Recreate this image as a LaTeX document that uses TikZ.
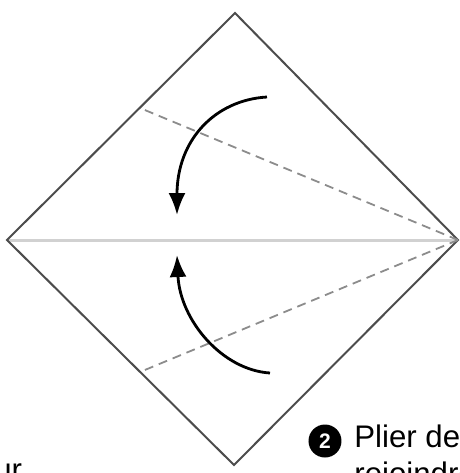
\documentclass[tikz,border=0pt]{standalone}
\usepackage{fontspec}
\setmainfont{Liberation Sans}
\usetikzlibrary{arrows.meta}

\begin{document}
\begin{tikzpicture}[x=0.5pt, y=-0.5pt,
        side/.style = {draw=black!70, line width=1pt, line join=miter},
        fold/.style = {draw=black!45, line width=0.9pt, dash pattern=on 4.5pt off 3pt},
        mid/.style = {draw=black!18, line width=1.5pt},
        flip/.style = {line width=1.4pt, -{Latex[length=11pt, width=8.5pt]}},
        txt/.style = {font=\fontsize{15.6}{17}\selectfont, inner sep=0pt, anchor=base west}]
        \useasboundingbox (0,0) rectangle (460,473);
        \clip (0,0) rectangle (460,473);

        \coordinate (top) at (235,13);
        \coordinate (left) at (7,240);
        \coordinate (right) at (458,240);
        \coordinate (bottom) at (234,465);
        \coordinate (up) at (140,108);
        \coordinate (down) at (140,372);

        \draw[mid] (left) -- (right);
        \draw[side] (top) -- (right) -- (bottom) -- (left) -- cycle;
        \draw[fold] (right) -- (up);
        \draw[fold] (right) -- (down);

        \coordinate (a1) at (267,97);
        \coordinate (a2) at (177,215);
        \coordinate (b1) at (270,373);
        \coordinate (b2) at (177,255);
        \draw[flip] (a1) .. controls (215,100) and (177,140) .. (a2);
        \draw[flip] (b1) .. controls (222,370) and (180,320) .. (b2);

        % step number
        \fill[black] (325,441) circle (16.5);
        \node[text=white, inner sep=0pt,
              font=\bfseries\fontsize{10.5}{11}\selectfont] (num) at (325,441) {2};
        \node[txt] (t1) at (354,447) {Plier de};
        \node[txt] (t2) at (354,484) {rejoindre};
        \node[txt] (t3) at (-6,480) {ur};
\end{tikzpicture}
\end{document}
